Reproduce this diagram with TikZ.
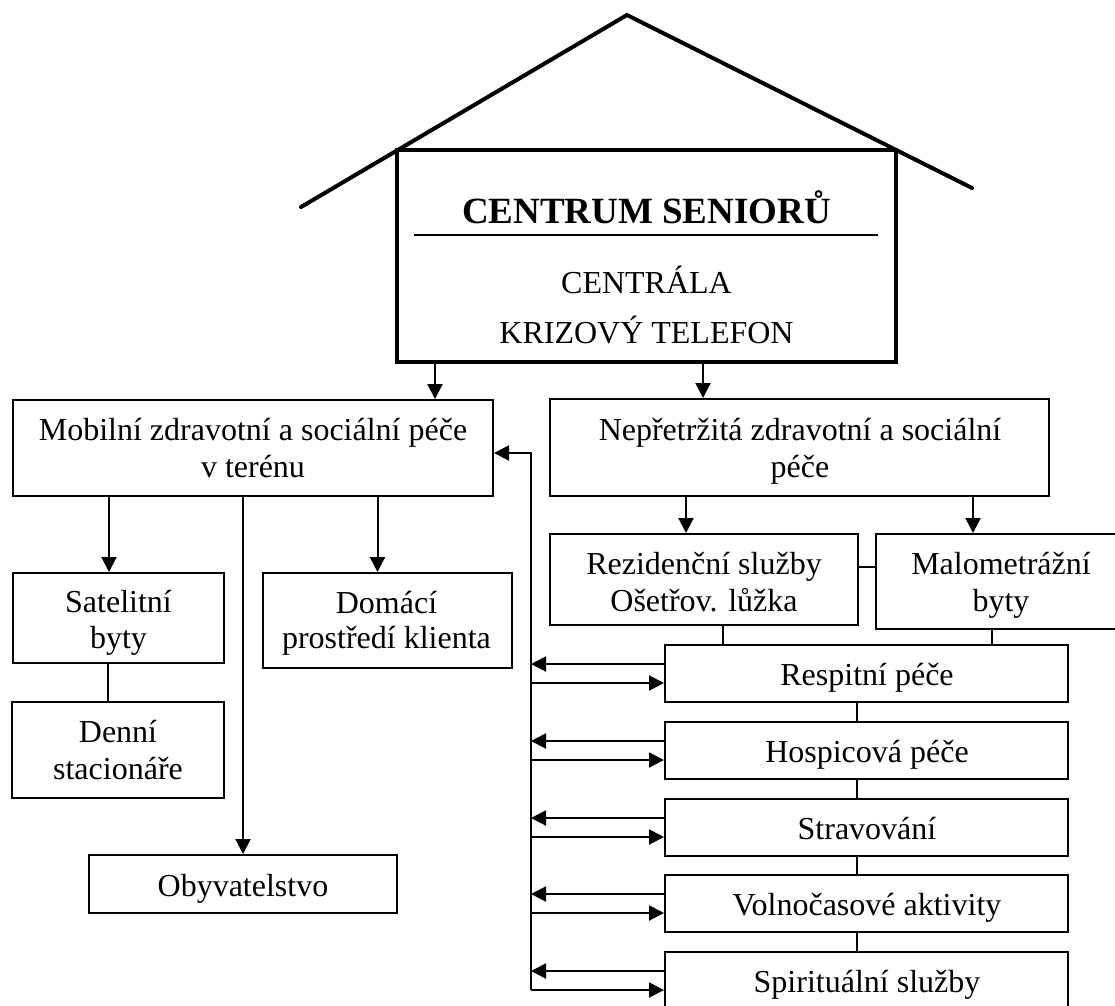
\documentclass[tikz,border=0pt]{standalone}
\usepackage{fontspec}
\setmainfont{Liberation Serif}
\usetikzlibrary{arrows.meta,calc}
\begin{document}
\begin{tikzpicture}[x=1pt,y=-1pt,
  box/.style={draw, line width=2pt, inner sep=0pt},
  lbl/.style={anchor=base, inner sep=0pt, font=\fontsize{32}{37}\selectfont},
  clbl/.style={anchor=base, inner sep=0pt, font=\fontsize{32}{37}\selectfont},
  conn/.style={line width=2pt},
  arr/.style={conn, -{Triangle[length=15pt,width=15pt]}},
  thick line/.style={line width=4pt, line cap=round, line join=miter}]
\useasboundingbox (0,0) rectangle (1115,1005);

% roof
\draw[thick line] (301,207) -- (627,15) -- (972,188);

% boxes
\node[box, line width=4pt, minimum width=499pt, minimum height=212pt] (main) at (646.5,256) {};
\node[box, minimum width=480.5pt, minimum height=96pt] (mob) at (252.75,448) {};
\node[box, minimum width=499pt, minimum height=97pt] (nep) at (799.5,447.5) {};
\node[box, minimum width=211pt, minimum height=90pt] (sat) at (118.5,618) {};
\node[box, minimum width=249.5pt, minimum height=95pt] (dom) at (387.25,620.5) {};
\node[box, minimum width=212pt, minimum height=96pt] (den) at (118,750) {};
\node[box, minimum width=308pt, minimum height=58pt] (oby) at (243,884) {};
\node[box, minimum width=308pt, minimum height=91pt] (rez) at (704,579.5) {};
\node[box, minimum width=250pt, minimum height=95pt] (mal) at (1001,581.5) {};
\node[box, minimum width=403pt, minimum height=57pt] (res) at (866.5,673.5) {};
\node[box, minimum width=403pt, minimum height=57pt] (hos) at (866.5,750.5) {};
\node[box, minimum width=403pt, minimum height=57pt] (str) at (866.5,827.5) {};
\node[box, minimum width=403pt, minimum height=57pt] (vol) at (866.5,903.5) {};
\node[box, minimum width=403pt, minimum height=57pt] (spi) at (866.5,980.5) {};

% texts
\node[anchor=base, inner sep=0pt, font=\bfseries\fontsize{37}{42}\selectfont] (t0) at (646.5,223) {CENTRUM SENIORŮ};
\draw[line width=2pt] (414,235) -- (878,235);
\node[clbl] (t1) at (646.5,293) {CENTRÁLA};
\node[clbl] (t2) at (646.5,343) {KRIZOVÝ TELEFON};

\node[lbl] at (253,440) {Mobilní zdravotní a sociální péče};
\node[lbl] at (253,477) {v terénu};
\node[lbl] at (800,440) {Nepřetržitá zdravotní a sociální};
\node[lbl] at (800,477) {péče};
\node[lbl] at (118.5,612) {Satelitní};
\node[lbl] at (118.5,648) {byty};
\node[lbl] at (386.5,613) {Domácí};
\node[lbl] at (386.5,648) {prostředí klienta};
\node[lbl] at (118,742) {Denní};
\node[lbl] at (118,779) {stacionáře};
\node[lbl] at (243,896) {Obyvatelstvo};
\node[lbl] at (704,574) {Rezidenční služby};
\node[lbl] at (704,611) {Ošetřov. lůžka};
\node[lbl] at (1001,574) {Malometrážní};
\node[lbl] at (1001,611) {byty};
\node[lbl] at (867,685) {Respitní péče};
\node[lbl] at (867,762) {Hospicová péče};
\node[lbl] at (867,839) {Stravování};
\node[lbl] at (867,915) {Volnočasové aktivity};
\node[lbl] at (867,992) {Spirituální služby};

% column coordinates
\coordinate (cA) at (435,0);
\coordinate (cB) at (703,0);
\coordinate (cSat) at (109,0);
\coordinate (cDen) at (108,0);
\coordinate (cDom) at (377.5,0);
\coordinate (cRez) at (686,0);
\coordinate (cMal) at (973,0);
\coordinate (cRezRes) at (723,0);
\coordinate (cMalRes) at (992,0);
\coordinate (cChain) at (857,0);
\coordinate (bus) at (531,0);

% connectors
\draw[arr] (main.south -| cA) -- (mob.north -| cA);
\draw[arr] (main.south -| cB) -- (nep.north -| cB);
\draw[arr] (mob.south -| cSat) -- (sat.north -| cSat);
\draw[conn] (sat.south -| cDen) -- (den.north -| cDen);
\draw[arr] (mob.south -| oby.north) -- (oby.north);
\draw[arr] (mob.south -| cDom) -- (dom.north -| cDom);
\draw[arr] (nep.south -| cRez) -- (rez.north -| cRez);
\draw[arr] (nep.south -| cMal) -- (mal.north -| cMal);
\draw[conn] ($(rez.east)+(0,-12.5)$) -- ($(mal.west)+(0,-14.5)$);
\draw[conn] (rez.south -| cRezRes) -- (res.north -| cRezRes);
\draw[conn] (mal.south -| cMalRes) -- (res.north -| cMalRes);
\draw[conn] (res.south -| cChain) -- (hos.north -| cChain);
\draw[conn] (hos.south -| cChain) -- (str.north -| cChain);
\draw[conn] (str.south -| cChain) -- (vol.north -| cChain);
\draw[conn] (vol.south -| cChain) -- (spi.north -| cChain);

% bus with double arrows
\draw[arr] ($(spi.west -| bus)+(0,9.5)$) |- ($(mob.east)+(0,5)$);
\foreach \n in {res,hos,str,vol,spi}{
  \draw[arr] ($(\n.west)+(0,-9.5)$) -- ($(\n.west -| bus)+(0,-9.5)$);
  \draw[arr] ($(\n.west -| bus)+(0,9.5)$) -- ($(\n.west)+(0,9.5)$);
}
\end{tikzpicture}
\end{document}
